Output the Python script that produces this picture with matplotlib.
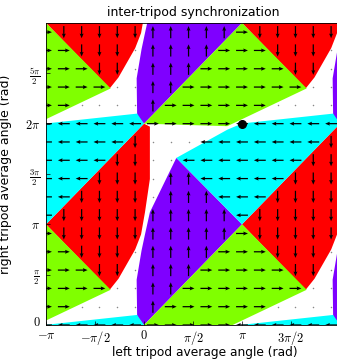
import numpy as np
import matplotlib
matplotlib.use("Agg")
import matplotlib.pyplot as plt
import matplotlib.transforms as mtransforms
from matplotlib.path import Path

plt.rcParams["mathtext.fontset"] = "cm"
plt.rcParams["font.family"] = ["DejaVu Sans"]

PI = np.pi

# Flow-direction regions over one 2π x 2π period (vertices in units of π).
# green: motion to the right, red: downward, purple: upward, cyan: to the left
green_region = [(0, 0), (1, 1), (1.66, 0.35), (0.85, -0.025)]
red_region = [(0, 2), (-1, 1), (-0.35, 0.35), (-0.26, 0.46), (-0.09, 0.75),
              (-0.03, 0.9), (0.01, 1.12), (0.06, 1.45), (0.06, 1.97)]
purple_region = [(0, 0), (1, 1), (0.33, 1.66), (0.06, 1.12), (0.01, 0.9),
                 (-0.025, 0.74), (-0.075, 0.45), (-0.07, 0.08)]
cyan_region = [(1, 1), (2, 2), (1.93, 2.1), (1.0, 2.002), (0.85, 1.94),
               (0.33, 1.66)]

region_colors = {"green": "#80ff00", "red": "#ff0000",
                 "purple": "#7f00ff", "cyan": "#00ffff"}
region_dirs = {"green": (1, 0), "red": (0, -1),
               "purple": (0, 1), "cyan": (-1, 0)}
regions = {"purple": purple_region, "red": red_region,
           "green": green_region, "cyan": cyan_region}

# sampling grid of the vector field
x_grid = -PI + np.arange(17) * 2 * PI / 11
y_grid = np.arange(17) * 2 * PI / 11
arrow_len = 0.38

# synchronized state
sync_point = (PI, 2 * PI)

x_ticks = [-PI, -PI / 2, 0, PI / 2, PI, 3 * PI / 2]
x_labels = [r"$-\pi$", r"$-\pi/2$", r"$0$", r"$\pi/2$", r"$\pi$",
            r"$3\pi/2$"]
y_ticks = [0, PI / 2, PI, 3 * PI / 2, 2 * PI, 5 * PI / 2]
y_labels = [r"$0$", r"$\frac{\pi}{2}$", r"$\pi$", r"$\frac{3\pi}{2}$",
            r"$2\pi$", r"$\frac{5\pi}{2}$"]

fig = plt.figure(figsize=(3.37, 3.59), dpi=100)
ax = fig.add_axes([46 / 337, 34 / 359, 294 / 337, 302 / 359])
ax.set_facecolor("white")

shifts = [(dx, dy) for dx in (-2, 0, 2) for dy in (-2, 0, 2)]
paths = {name: [] for name in regions}
for name, poly in regions.items():
    base = np.array(poly, dtype=float)
    for dx, dy in shifts:
        verts = (base + np.array([dx, dy])) * PI
        ax.fill(verts[:, 0], verts[:, 1], color=region_colors[name],
                lw=0, zorder=1)
        paths[name].append(Path(verts))

# classify the grid points by region and build the arrows
GX, GY = np.meshgrid(x_grid, y_grid)
pts = np.column_stack([GX.ravel(), GY.ravel()])
U = np.zeros(len(pts))
V = np.zeros(len(pts))
assigned = np.zeros(len(pts), dtype=bool)
for name in ["purple", "red", "green", "cyan"]:
    inside = np.zeros(len(pts), dtype=bool)
    for p in paths[name]:
        inside |= p.contains_points(pts)
    sel = inside & ~assigned
    U[sel] = region_dirs[name][0] * arrow_len
    V[sel] = region_dirs[name][1] * arrow_len
    assigned |= sel

moving = assigned
ax.quiver(pts[moving, 0], pts[moving, 1], U[moving], V[moving],
          angles="xy", scale_units="xy", scale=1, pivot="middle",
          width=0.0042, headwidth=3.2, headlength=3.8, headaxislength=3.4,
          color="black", zorder=3)
ax.scatter(pts[~moving, 0], pts[~moving, 1], s=1.2, color="#888888",
           linewidths=0, zorder=3)

ax.plot([sync_point[0]], [sync_point[1]], "o", color="black",
        markersize=5.5, zorder=4)

ax.set_xlim(-PI, 2 * PI)
ax.set_ylim(0, 3 * PI)
ax.set_xticks(x_ticks)
ax.set_xticklabels(x_labels, fontsize=9)
ax.set_yticks(y_ticks)
ax.set_yticklabels(y_labels, fontsize=9)
ax.tick_params(direction="in", length=3, width=0.5)
ax.tick_params(axis="x", pad=3)
ax.tick_params(axis="y", pad=4)
for s in ax.spines.values():
    s.set_linewidth(0.6)

# lift the lowest y label a little so it clears the corner
zero_label = ax.get_yticklabels()[0]
zero_label.set_transform(zero_label.get_transform() +
                         mtransforms.ScaledTranslation(0, 3 / 72,
                                                       fig.dpi_scale_trans))

ax.set_title("inter-tripod synchronization", fontsize=9, pad=5)
ax.set_xlabel("left tripod average angle (rad)", fontsize=8.8)
ax.xaxis.set_label_coords(0.54, -0.069)
ax.set_ylabel("right tripod average angle (rad)", fontsize=9)
ax.yaxis.set_label_coords(-0.115, 0.5)

fig.savefig("out.png", dpi=100)
